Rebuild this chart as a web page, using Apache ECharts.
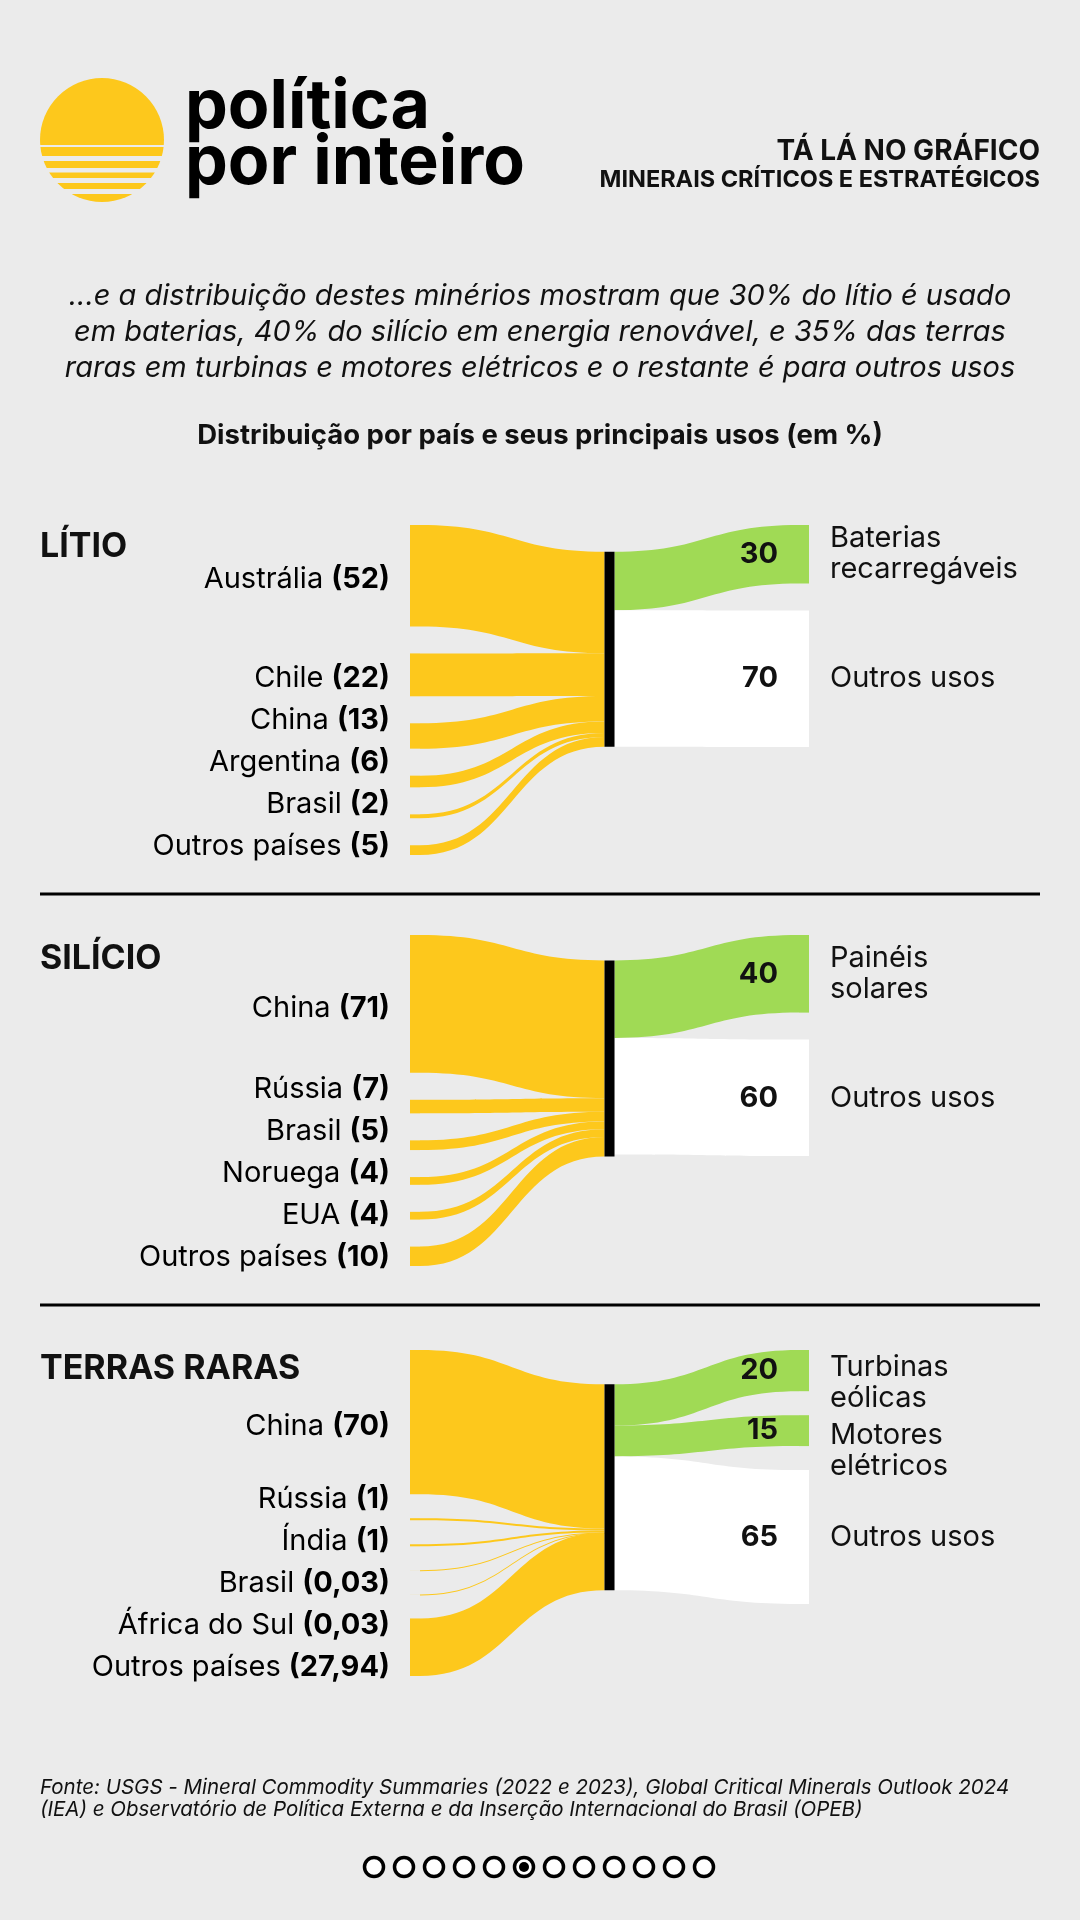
<!DOCTYPE html>
<html><head><meta charset="utf-8">
<script src="https://cdn.jsdelivr.net/npm/echarts@6/dist/echarts.min.js"></script>
<style>html,body{margin:0;padding:0;background:#ebebeb;}#c{width:1080px;height:1920px;}</style>
</head><body><div id="c"></div>
<script>
// ---------- DATA ----------
const litioCountries = ['Austrália', 'Chile', 'China', 'Argentina', 'Brasil', 'Outros países'];
const litioValues = [52, 22, 13, 6, 2, 5];
const litioUses = ['Baterias\nrecarregáveis', 'Outros usos'];
const litioUseValues = [30, 70];

const silicioCountries = ['China', 'Rússia', 'Brasil', 'Noruega', 'EUA', 'Outros países'];
const silicioValues = [71, 7, 5, 4, 4, 10];
const silicioUses = ['Painéis\nsolares', 'Outros usos'];
const silicioUseValues = [40, 60];

const terrasCountries = ['China', 'Rússia', 'Índia', 'Brasil', 'África do Sul', 'Outros países'];
const terrasValues = [70, 1, 1, 0.03, 0.03, 27.94];
const terrasUses = ['Turbinas\neólicas', 'Motores\nelétricos', 'Outros usos'];
const terrasUseValues = [20, 15, 65];

const mineralTitles = ['LÍTIO', 'SILÍCIO', 'TERRAS RARAS'];
const mineralNames = ['Lítio', 'Silício', 'Terras raras'];
const otherUse = 'Outros usos';

// ---------- STYLE / LAYOUT ----------
const FONT = 'Inter, "Noto Sans", sans-serif';
const BG = '#ebebeb', YELLOW = '#fdc81c', GREEN = '#a0da55', WHITE = '#ffffff', INK = '#111111';
const panelLayout = [
  { top: 525, height: 330, gap: 27, titleY: 547, offsets: {} },
  { top: 935, height: 331, gap: 27, titleY: 959, offsets: {} },
  { top: 1350, height: 326, gap: 24, titleY: 1369, offsets: { 'Turbinas\neólicas': 12, 'Motores\nelétricos': 20 } }
];
const SANKEY_LEFT = 410, SANKEY_WIDTH = 399, NODE_W = 10;
const LABEL_SIZE = 29;

const panelsData = [
  { countries: litioCountries, values: litioValues, uses: litioUses, useValues: litioUseValues },
  { countries: silicioCountries, values: silicioValues, uses: silicioUses, useValues: silicioUseValues },
  { countries: terrasCountries, values: terrasValues, uses: terrasUses, useValues: terrasUseValues }
];

const fmt = v => String(v).replace('.', ',');
const sum = a => a.reduce((s, v) => s + v, 0);

const series = [];
const graphic = [];

panelsData.forEach((p, k) => {
  const L = panelLayout[k];
  const mineral = mineralNames[k];
  const sL = sum(p.values), sR = sum(p.useValues), midVal = Math.max(sL, sR);
  const n = p.countries.length;
  const ky = Math.min((L.height - (n - 1) * L.gap) / sL, L.height / midVal,
    (L.height - (p.uses.length - 1) * L.gap) / sR);
  // middle node centred on the weighted centre of its sources
  let y = 0, w = 0;
  p.values.forEach(v => { const h = v * ky; w += (y + h / 2) * v; y += h + L.gap; });
  const midTop = Math.max(0, w / sL - midVal * ky / 2);

  const build = overlay => {
    const nodes = [];
    p.countries.forEach(c => nodes.push({ name: c, itemStyle: { color: YELLOW }, label: { show: false } }));
    nodes.push({ name: mineral, localY: midTop / L.height, itemStyle: { color: '#000' }, label: { show: false } });
    p.uses.forEach(u => {
      const lab = overlay
        ? { show: true, position: 'right', distance: 21, formatter: '{b}', fontFamily: FONT, fontSize: LABEL_SIZE, lineHeight: 31, color: INK, offset: [0, L.offsets[u] || 0] }
        : { show: true, position: 'left', distance: 21, formatter: q => fmt(q.value), fontFamily: FONT, fontSize: LABEL_SIZE, fontWeight: 'bold', color: INK };
      nodes.push({ name: u, itemStyle: { color: u === otherUse ? WHITE : GREEN }, label: lab });
    });
    const links = [];
    p.countries.forEach((c, i) => links.push({ source: c, target: mineral, value: p.values[i], lineStyle: { color: YELLOW } }));
    p.uses.forEach((u, i) => links.push({ source: mineral, target: u, value: p.useValues[i], lineStyle: { color: u === otherUse ? WHITE : GREEN } }));
    return {
      type: 'sankey', left: SANKEY_LEFT, top: L.top, width: SANKEY_WIDTH, height: L.height,
      nodeWidth: NODE_W, nodeGap: L.gap, layoutIterations: 0, draggable: false, silent: true,
      emphasis: { disabled: true }, animation: false, z: overlay ? 3 : 2,
      itemStyle: { borderWidth: 0, opacity: overlay ? 0 : 1 },
      lineStyle: { curveness: 0.5, opacity: overlay ? 0 : 1 },
      data: nodes, links: links
    };
  };
  series.push(build(false), build(true));

  // left labels
  p.countries.forEach((c, i) => {
    const ly = i === 0 ? L.top + p.values[0] * ky / 2 + 4 : L.top + L.height - 9 - (n - 1 - i) * 42;
    graphic.push({
      type: 'text', x: 390, y: ly, z: 10,
      style: {
        text: '{r|' + c + ' }{b|(' + fmt(p.values[i]) + ')}', align: 'right', verticalAlign: 'middle',
        rich: {
          r: { fontFamily: FONT, fontSize: LABEL_SIZE, color: INK },
          b: { fontFamily: FONT, fontSize: LABEL_SIZE, fontWeight: 'bold', color: INK }
        }
      }
    });
  });
  // panel title
  graphic.push({ type: 'text', x: 40, y: L.titleY, z: 10,
    style: { text: mineralTitles[k], fontFamily: FONT, fontSize: 34, fontWeight: 'bold', fill: INK, align: 'left', verticalAlign: 'middle' } });
});

// dividers
[894, 1305].forEach(yy => graphic.push({ type: 'line', z: 10, shape: { x1: 40, y1: yy, x2: 1040, y2: yy }, style: { stroke: '#000', lineWidth: 3 } }));

// logo
graphic.push({ type: 'circle', z: 10, shape: { cx: 102, cy: 140, r: 62 }, style: { fill: YELLOW } });
[[145, 2], [156, 5], [168, 4.5], [178, 5], [189, 5]].forEach(s =>
  graphic.push({ type: 'rect', z: 11, shape: { x: 36, y: s[0], width: 132, height: s[1] }, style: { fill: BG } }));
graphic.push({ type: 'text', x: 185, y: 108, z: 10, style: { text: 'política', fontFamily: FONT, fontSize: 68, fontWeight: 'bold', fill: '#000', align: 'left', verticalAlign: 'middle' } });
graphic.push({ type: 'text', x: 185, y: 164, z: 10, style: { text: 'por inteiro', fontFamily: FONT, fontSize: 68, fontWeight: 'bold', fill: '#000', align: 'left', verticalAlign: 'middle' } });
graphic.push({ type: 'text', x: 1040, y: 152, z: 10, style: { text: 'TÁ LÁ NO GRÁFICO', fontFamily: FONT, fontSize: 28, fontWeight: 'bold', fill: INK, align: 'right', verticalAlign: 'middle' } });
graphic.push({ type: 'text', x: 1040, y: 180, z: 10, style: { text: 'MINERAIS CRÍTICOS E ESTRATÉGICOS', fontFamily: FONT, fontSize: 23.5, fontWeight: 'bold', fill: INK, align: 'right', verticalAlign: 'middle' } });

// intro
graphic.push({ type: 'text', x: 540, y: 332, z: 10, style: {
  text: '...e a distribuição destes minérios mostram que 30% do lítio é usado\nem baterias, 40% do silício em energia renovável, e 35% das terras\nraras em turbinas e motores elétricos e o restante é para outros usos',
  fontFamily: FONT, fontSize: 29, fontStyle: 'italic', lineHeight: 36, fill: INK, align: 'center', verticalAlign: 'middle' } });
graphic.push({ type: 'text', x: 540, y: 436, z: 10, style: { text: 'Distribuição por país e seus principais usos (em %)', fontFamily: FONT, fontSize: 27.5, fontWeight: 'bold', fill: INK, align: 'center', verticalAlign: 'middle' } });

// footnote
graphic.push({ type: 'text', x: 40, y: 1799, z: 10, style: {
  text: 'Fonte: USGS - Mineral Commodity Summaries (2022 e 2023), Global Critical Minerals Outlook 2024\n(IEA) e Observatório de Política Externa e da Inserção Internacional do Brasil (OPEB)',
  fontFamily: FONT, fontSize: 20.5, fontStyle: 'italic', lineHeight: 22.5, fill: INK, align: 'left', verticalAlign: 'middle' } });

// pagination dots
for (let i = 0; i < 12; i++) {
  graphic.push({ type: 'circle', z: 10, shape: { cx: 374 + 30 * i, cy: 1867, r: 9.5 }, style: { fill: WHITE, stroke: '#000', lineWidth: 3.5 } });
  if (i === 5) graphic.push({ type: 'circle', z: 11, shape: { cx: 374 + 30 * i, cy: 1867, r: 5 }, style: { fill: '#000' } });
}

const chart = echarts.init(document.getElementById('c'), null, { renderer: 'canvas' });
chart.setOption({ backgroundColor: BG, animation: false, series: series, graphic: graphic });
</script></body></html>
